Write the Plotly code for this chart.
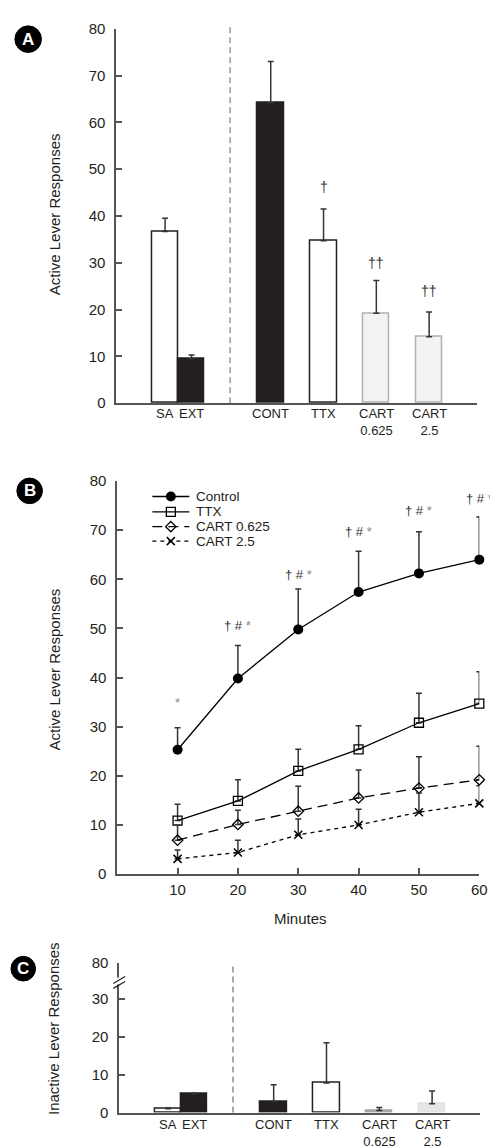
import plotly.graph_objects as go

# ---------------- data ----------------
cat_labels = ["SA", "EXT", "CONT", "TTX", "CART<br>0.625", "CART<br>2.5"]

# Panel A: active lever responses (mean and top of SEM bar)
active_mean = [36.7, 9.5, 64.2, 34.7, 19.2, 14.2]
active_top = [39.5, 10.3, 73.0, 41.5, 26.2, 19.5]
active_sig = ["", "", "", "†", "††", "††"]
active_sig_y = [None, None, None, 46.3, 29.9, 24.0]

# Panel B: time course
minutes = [10, 20, 30, 40, 50, 60]
series_names = ["Control", "TTX", "CART 0.625", "CART 2.5"]
control_mean = [25.3, 39.8, 49.8, 57.4, 61.2, 64.0]
control_top = [29.8, 46.5, 58.0, 65.7, 69.7, 72.7]
ttx_mean = [10.9, 14.9, 21.0, 25.4, 30.8, 34.7]
ttx_top = [14.2, 19.2, 25.4, 30.2, 36.8, 41.2]
cart0625_mean = [6.9, 10.1, 12.8, 15.5, 17.5, 19.2]
cart0625_top = [10.0, 13.0, 17.9, 21.2, 23.9, 26.0]
cart25_mean = [3.1, 4.4, 8.0, 10.0, 12.6, 14.4]
cart25_top = [4.9, 6.9, 11.2, 13.2, 16.5, 18.0]
time_sig = ["*", "† # *", "† # *", "† # *", "† # *", "† # *"]
time_sig_y = [35.0, 50.5, 61.0, 69.7, 74.0, 76.5]

# Panel C: inactive lever responses
inactive_mean = [1.0, 4.9, 2.9, 7.8, 0.5, 2.3]
inactive_top = [1.2, 5.1, 7.3, 18.4, 1.3, 5.7]
inactive_ticks = ["0", "10", "20", "30", "80"]

# ---------------- layout helpers ----------------
W, H = 498, 1147
FONT = "Liberation Sans, Arial, Helvetica, sans-serif"
INK = "#231f20"
AX = "#555555"


def fx(p):
    return p / W


def fy(p):
    return 1 - p / H


cat_pos = [1, 1.5, 3, 4, 5, 6]
bar_fill_a = ["white", INK, INK, "white", "#f3f3f3", "#f3f3f3"]
bar_line_a = [INK, INK, INK, INK, "#b0b0b0", "#b0b0b0"]
bar_fill_c = ["white", INK, INK, "white", "#b8b8b8", "#e6e6e6"]
bar_line_c = [INK, INK, INK, INK, "#a0a0a0", "#e0e0e0"]
xr = [(110 - 106) / 53.67, (477 - 106) / 53.67]
sep_x = 2.23
c_top_val = (1112 - 960) / 3.85


def up_err(mean, top, color="#333333"):
    return dict(type="data", symmetric=False,
                array=[t - m for m, t in zip(mean, top)],
                arrayminus=[0] * len(mean),
                color=color, thickness=1.5, width=3)


fig = go.Figure()

# Panel A bars
fig.add_trace(go.Bar(x=cat_pos, y=active_mean, width=0.5,
                     marker=dict(color=bar_fill_a, line=dict(color=bar_line_a, width=1.5)),
                     error_y=up_err(active_mean, active_top),
                     xaxis="x", yaxis="y", showlegend=False))

# Panel B lines
series_means = [control_mean, ttx_mean, cart0625_mean, cart25_mean]
series_tops = [control_top, ttx_top, cart0625_top, cart25_top]
markers = [dict(symbol="circle", size=10, color="black"),
           dict(symbol="square-open", size=9, color="black", line=dict(width=1.3)),
           dict(symbol="diamond-open", size=8, color="black", line=dict(width=1.3)),
           dict(symbol="x-thin-open", size=8, color="black", line=dict(width=1.5))]
dashes = ["solid", "solid", "10px,6px", "4px,4px"]
for name, m, t, mk, dash in zip(series_names, series_means, series_tops, markers, dashes):
    fig.add_trace(go.Scatter(x=minutes, y=m, name=name, mode="lines+markers",
                             marker=mk, line=dict(color="black", width=1.3, dash=dash),
                             error_y=up_err(m, t), cliponaxis=False, showlegend=False,
                             xaxis="x2", yaxis="y2"))

# Panel C bars
fig.add_trace(go.Bar(x=cat_pos, y=inactive_mean, width=0.5,
                     marker=dict(color=bar_fill_c, line=dict(color=bar_line_c, width=1.5)),
                     error_y=up_err(inactive_mean, inactive_top),
                     xaxis="x3", yaxis="y3", showlegend=False))

# Legend for panel B (drawn on its own pixel-unit axis)
leg_rows = [486.7, 502.3, 517.3, 532.0]
for name, row, mk, dash in zip(series_names, leg_rows, markers, dashes):
    fig.add_trace(go.Scatter(x=[146.7, 184.3], y=[row, row], mode="lines",
                             line=dict(color="black", width=1.3, dash=dash),
                             xaxis="x4", yaxis="y4", showlegend=False, hoverinfo="skip"))
    fig.add_trace(go.Scatter(x=[165.5], y=[row], mode="markers", marker=mk,
                             xaxis="x4", yaxis="y4", showlegend=False, hoverinfo="skip"))

axis_common = dict(showline=True, linecolor=AX, linewidth=1.5, showgrid=False, zeroline=False,
                   tickfont=dict(family=FONT, size=15, color=INK), ticks="inside",
                   ticklen=6, tickcolor=AX, tickwidth=1.5)

shapes = []
annotations = []

# separators
shapes.append(dict(type="line", xref="x", yref="paper", x0=sep_x, x1=sep_x,
                   y0=fy(392), y1=fy(10), line=dict(color="#666", width=1, dash="6px,4px")))
shapes.append(dict(type="line", xref="x3", yref="paper", x0=sep_x, x1=sep_x,
                   y0=fy(1112), y1=fy(960), line=dict(color="#555", width=1, dash="6px,4px")))

# axis break on panel C
shapes.append(dict(type="rect", xref="paper", yref="paper", x0=fx(110), x1=fx(116),
                   y0=fy(982), y1=fy(975), fillcolor="white", line=dict(width=0), layer="above"))
for dy in (0, 5):
    shapes.append(dict(type="line", xref="paper", yref="paper", x0=fx(107), x1=fx(119),
                       y0=fy(981 + dy), y1=fy(974 + dy), line=dict(color=INK, width=1.2)))

# panel letters
for letter, cx, cy, r in (("A", 20.5, 22.5, 13.5), ("B", 22, 481, 13), ("C", 15.5, 966, 12.5)):
    shapes.append(dict(type="circle", xref="paper", yref="paper",
                       x0=fx(cx - r), x1=fx(cx + r), y0=fy(cy + r), y1=fy(cy - r),
                       fillcolor="black", line=dict(color="black", width=1)))
    annotations.append(dict(x=fx(cx), y=fy(cy), xref="paper", yref="paper", text="<b>%s</b>" % letter,
                            showarrow=False, font=dict(family=FONT, size=17, color="white"),
                            xanchor="center", yanchor="middle"))

# y titles
for txt, cy in (("Active Lever Responses", 200), ("Active Lever Responses", 662),
                ("Inactive Lever Responses", 1027)):
    annotations.append(dict(x=fx(47), y=fy(cy), xref="paper", yref="paper", text=txt,
                            textangle=-90, showarrow=False,
                            font=dict(family=FONT, size=15, color=INK),
                            xanchor="center", yanchor="middle"))

annotations.append(dict(x=fx(297), y=fy(915), xref="paper", yref="paper", text="Minutes",
                        showarrow=False, font=dict(family=FONT, size=15, color=INK),
                        xanchor="center", yanchor="middle"))

# category labels (A and C); first line top sits just under the axis
for xref, top in (("x", 395), ("x3", 1117)):
    for p, lab in zip(cat_pos, cat_labels):
        annotations.append(dict(x=p, y=fy(top - 1), xref=xref, yref="paper", text=lab,
                                showarrow=False, font=dict(family=FONT, size=13, color=INK),
                                xanchor="center", yanchor="top", borderpad=0))

# legend labels
for name, row in zip(series_names, leg_rows):
    annotations.append(dict(x=189, y=row, xref="x4", yref="y4", text=name, showarrow=False,
                            font=dict(family=FONT, size=13.5, color=INK),
                            xanchor="left", yanchor="middle"))

# significance marks panel A
for p, s, yv in zip(cat_pos, active_sig, active_sig_y):
    if s:
        annotations.append(dict(x=p, y=yv, xref="x", yref="y", text=s, showarrow=False,
                                font=dict(family=FONT, size=14, color="#333"),
                                xanchor="center", yanchor="middle"))

# significance marks panel B
for xv, s, yv in zip(minutes, time_sig, time_sig_y):
    s_html = s.replace("*", "<span style='color:#888'>*</span>")
    annotations.append(dict(x=xv, y=yv, xref="x2", yref="y2", text=s_html, showarrow=False,
                            font=dict(family=FONT, size=13, color="#333"),
                            xanchor="center", yanchor="middle"))

fig.update_layout(
    width=W, height=H, autosize=False,
    margin=dict(l=0, r=0, t=0, b=0),
    paper_bgcolor="white", plot_bgcolor="white",
    bargap=0, showlegend=False,
    xaxis=dict(domain=[fx(110), fx(477)], range=xr, tickvals=cat_pos, showticklabels=False,
               anchor="y", **{**axis_common, "ticks": ""}),
    yaxis=dict(domain=[fy(392), fy(12)], range=[0, 80], tickvals=list(range(0, 81, 10)),
               anchor="x", ticklabelstandoff=6, **axis_common),
    xaxis2=dict(domain=[fx(111), fx(479)], range=[0, 60], tickvals=minutes,
                anchor="y2", ticklabelstandoff=1, **axis_common),
    yaxis2=dict(domain=[fy(870), fy(471)], range=[0, 80], tickvals=list(range(0, 81, 10)),
                anchor="x2", ticklabelstandoff=6, **axis_common),
    xaxis3=dict(domain=[fx(113), fx(480)], range=xr, tickvals=cat_pos, showticklabels=False,
                anchor="y3", **{**axis_common, "ticks": ""}),
    yaxis3=dict(domain=[fy(1112), fy(960)], range=[0, c_top_val],
                tickvals=[0, 10, 20, 30, c_top_val], ticktext=inactive_ticks,
                anchor="x3", ticklabelstandoff=6, **axis_common),
    xaxis4=dict(domain=[fx(140), fx(260)], range=[140, 260], visible=False, fixedrange=True),
    yaxis4=dict(domain=[fy(545), fy(475)], range=[545, 475], visible=False, fixedrange=True,
                anchor="x4"),
    shapes=shapes, annotations=annotations,
)

fig.write_html("out.html")
